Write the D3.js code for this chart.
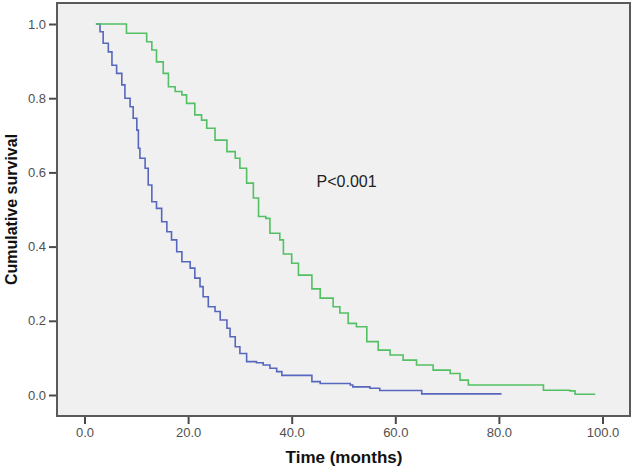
<!DOCTYPE html>
<html lang="en">
<head>
<meta charset="UTF-8">
<title>Cumulative survival</title>
<script src="https://cdn.jsdelivr.net/npm/d3@7"></script>
<style>
  body { margin: 0; background: #fff; }
  svg text { font-family: "Liberation Sans", Arial, sans-serif; }
</style>
</head>
<body>
<svg width="634" height="470"></svg>
<script>
// KM curves: time (months) and survival, step-after
var blueTime = [2.2, 3.0, 3.6, 4.6, 5.3, 6.2, 7.2, 7.8, 8.8, 9.4, 10.1, 10.4, 10.7, 11.7, 12.3, 13.0, 13.9, 14.9, 15.9, 16.8,
                17.8, 18.8, 20.4, 21.3, 22.3, 22.9, 23.9, 25.2, 26.2, 27.5, 28.1, 29.1, 30.0, 31.3, 33.2, 34.5, 35.8, 37.1, 38.1,
                43.9, 45.5, 51.3, 51.8, 55.1, 57.0, 65.1, 80.5];
var blueSurv = [1.0, 0.979, 0.948, 0.925, 0.889, 0.867, 0.836, 0.800, 0.777, 0.746, 0.714, 0.665, 0.638, 0.611, 0.566, 0.521, 0.503, 0.467, 0.440, 0.418,
                0.386, 0.359, 0.342, 0.315, 0.292, 0.265, 0.238, 0.225, 0.202, 0.180, 0.157, 0.130, 0.112, 0.090, 0.087, 0.081, 0.072, 0.063, 0.053,
                0.036, 0.031, 0.027, 0.022, 0.018, 0.012, 0.003, 0.003];

var greenTime = [2.2, 7.2, 8.1, 9.7, 12.0, 13.0, 13.9, 15.2, 16.2, 17.5, 18.8, 19.7, 21.3, 22.6, 23.6, 25.2, 27.5, 29.1, 30.0, 31.3,
                 32.6, 33.6, 35.0, 35.8, 37.7, 38.4, 40.0, 41.3, 43.9, 45.5, 48.0, 49.3, 50.9, 52.5, 54.5, 56.7, 59.0, 61.5, 64.1,
                 67.3, 70.6, 72.5, 74.1, 86.6, 88.6, 93.7, 94.7, 98.6];
var greenSurv = [1.0, 1.0, 0.975, 0.975, 0.952, 0.930, 0.898, 0.867, 0.831, 0.818, 0.809, 0.786, 0.755, 0.741, 0.719, 0.687, 0.656, 0.638, 0.611, 0.571,
                 0.531, 0.481, 0.476, 0.436, 0.418, 0.380, 0.355, 0.323, 0.286, 0.261, 0.238, 0.221, 0.193, 0.184, 0.144, 0.121, 0.108, 0.094, 0.081,
                 0.067, 0.058, 0.040, 0.027, 0.027, 0.013, 0.011, 0.002, 0.002];

var xTicks = [0, 20, 40, 60, 80, 100];
var yTicks = [0, 0.2, 0.4, 0.6, 0.8, 1.0];

var svg = d3.select('svg');

// plot frame ("top" is taken on window, so other names here)
var plotL = 57, plotR = 630, plotT = 3, plotB = 416;

var x = d3.scaleLinear().domain([0, 100]).range([84.5, 602.5]);
var y = d3.scaleLinear().domain([0, 1]).range([395, 24]);

svg.append('rect')
    .attr('x', plotL).attr('y', plotT)
    .attr('width', plotR - plotL).attr('height', plotB - plotT)
    .attr('fill', '#f0f0f0');

function zip(t, s) {
    return t.map(function (d, i) { return [d, s[i]]; });
}

var line = d3.line()
    .x(function (d) { return x(d[0]); })
    .y(function (d) { return y(d[1]); })
    .curve(d3.curveStepAfter);

svg.append('path')
    .datum(zip(blueTime, blueSurv))
    .attr('d', line)
    .attr('fill', 'none')
    .attr('stroke', '#5767bd')
    .attr('stroke-width', 1.6);

svg.append('path')
    .datum(zip(greenTime, greenSurv))
    .attr('d', line)
    .attr('fill', 'none')
    .attr('stroke', '#52c063')
    .attr('stroke-width', 1.6);

// frame border on top
svg.append('rect')
    .attr('x', plotL).attr('y', plotT)
    .attr('width', plotR - plotL).attr('height', plotB - plotT)
    .attr('fill', 'none')
    .attr('stroke', '#5a5a5a')
    .attr('stroke-width', 2);

var axisX = d3.axisBottom(x).tickValues(xTicks).tickSize(7).tickPadding(4)
    .tickFormat(d3.format('.1f'));
var axisY = d3.axisLeft(y).tickValues(yTicks).tickSize(7).tickPadding(3)
    .tickFormat(d3.format('.1f'));

var gx = svg.append('g').attr('transform', 'translate(0,' + (plotB + 1) + ')').call(axisX);
var gy = svg.append('g').attr('transform', 'translate(' + (plotL - 1) + ',0)').call(axisY);

[gx, gy].forEach(function (g) {
    g.select('.domain').remove();
    g.selectAll('line').attr('stroke', '#4a4a4a').attr('stroke-width', 2);
    g.selectAll('text').attr('fill', '#505050').style('font-size', '13px');
});

// axis titles
svg.append('text')
    .attr('x', 344).attr('y', 463)
    .attr('text-anchor', 'middle')
    .style('font-size', '17px').style('font-weight', 'bold')
    .attr('fill', '#111')
    .text('Time (months)');

svg.append('text')
    .attr('transform', 'translate(17,' + ((plotT + plotB) / 2) + ') rotate(-90)')
    .attr('text-anchor', 'middle')
    .style('font-size', '16px').style('font-weight', 'bold')
    .attr('fill', '#111')
    .text('Cumulative survival');

// annotation
svg.append('text')
    .attr('x', x(44.8)).attr('y', y(0.56))
    .style('font-size', '16px')
    .attr('fill', '#222')
    .text('P<0.001');
</script>
</body>
</html>
